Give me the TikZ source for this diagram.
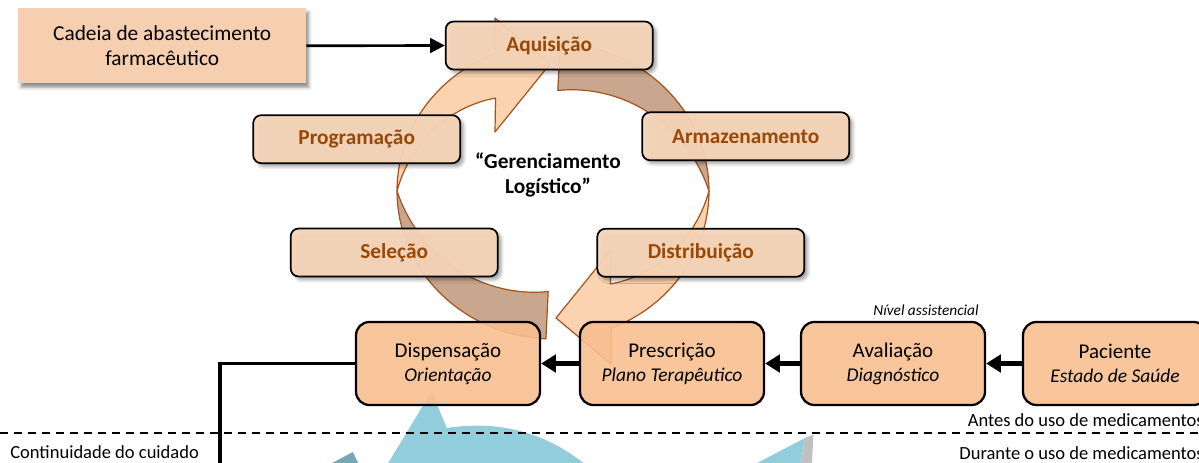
\documentclass[tikz,border=0pt]{standalone}
\usepackage{fontspec}
\setmainfont{Carlito}
\usetikzlibrary{arrows.meta,shadows.blur}
\definecolor{ringlight}{HTML}{FBD3B0}
\definecolor{ringdark}{HTML}{C8A78E}
\definecolor{ringedge}{HTML}{A5531A}
\definecolor{cyclefill}{HTML}{F8D6B9}
\definecolor{cycletext}{HTML}{984807}
\definecolor{stepfill}{HTML}{F8BF8F}
\definecolor{chainfill}{HTML}{F6CFB0}
\definecolor{bluefill}{HTML}{92CDDC}
\definecolor{tealfill}{HTML}{77A6B4}
\definecolor{grayedge}{HTML}{C0C0C0}
\tikzset{
  cyclebox/.style={draw=black, line width=1.3pt, rounded corners=6pt, fill=cyclefill,
    fill opacity=0.94, text opacity=1, minimum width=155.25pt, minimum height=36pt,
    inner sep=0pt, text=cycletext, font=\fontsize{16}{18.75}\selectfont\bfseries,
    blur shadow={shadow xshift=2.5pt, shadow yshift=-2.5pt, shadow blur radius=2.5pt, shadow opacity=40}},
  stepbox/.style={draw=black, line width=1.7pt, rounded corners=10pt, fill=stepfill,
    fill opacity=0.9, text opacity=1, minimum width=138pt, minimum height=62.25pt,
    inner sep=0pt, align=center, font=\fontsize{15.75}{18}\selectfont},
  chainbox/.style={fill=chainfill, minimum width=215.8pt, minimum height=56.25pt,
    inner sep=0pt, align=center, font=\fontsize{16}{18.75}\selectfont,
    blur shadow={shadow xshift=2pt, shadow yshift=-3pt, shadow blur radius=2.5pt, shadow opacity=45}},
  bigarrow/.style={line width=4pt, -{Triangle[length=11pt,width=13pt]}},
  thinarrow/.style={line width=2pt, -{Triangle[length=11pt,width=11pt]}},
  ringfront/.style={fill=ringlight, draw=ringedge, line width=0.9pt, line join=round},
  ringback/.style={fill=ringdark, draw=ringedge, line width=0.9pt, line join=round},
  smalllabel/.style={inner sep=0pt, font=\fontsize{13.9}{16}\selectfont},
}
\newcommand{\subline}[1]{{\fontsize{14.6}{18}\selectfont\itshape #1}}
\newcommand{\ringhalf}{%
  \path[ringback] (397,191)
    -- plot[domain=180:267.4,samples=40] ({553+156*cos(\x)},{191-148*sin(\x)})
    -- plot[domain=267.4:180,samples=40] ({553+156*kb(\x)*cos(\x)},{191-148*kb(\x)*sin(\x)})
    -- cycle;
  \path[ringfront] (397,191)
    -- plot[domain=180:111.8,samples=40] ({553+156*cos(\x)},{191-148*sin(\x)})
    -- (495,18) -- (550,64) -- (495,132)
    -- plot[domain=120.4:180,samples=40] ({553+156*kf(\x)*cos(\x)},{191-148*kf(\x)*sin(\x)})
    -- cycle;
}
\begin{document}
\begin{tikzpicture}[x=0.75pt,y=-0.75pt,
  declare function={kb(\t)=0.68+0.16*((267.4-\t)/87.4)*(1+(267.4-\t)/87.4);
                    kf(\t)=0.728+0.272*(\t-120.4)/59.6;}]
\useasboundingbox (0,0) rectangle (1199,463);
\begin{scope}
\clip (0,0) rectangle (1199,463);
% blue shapes at the bottom
\fill[bluefill] (431.7,391.3) -- (446.7,428) .. controls (500,420) and (548,432) .. (592,470) -- (384,470) -- cycle;
\fill[tealfill] (332,463) -- (353,452) -- (358,463) -- cycle;
\fill[bluefill] (757,463) -- (805,438) -- (801,463) -- cycle;
\fill[grayedge] (805,438) -- (813.3,434.7) -- (811.7,470) -- (800,470) -- cycle;
% dashed separator
\draw[line width=1.5pt, dash pattern=on 6pt off 4.5pt] (0,433) -- (1199,433);
% circular arrows
\ringhalf
\begin{scope}[rotate around={180:(553,191)}]
\ringhalf
\end{scope}
\end{scope}
% chain box
\node[chainbox] (cadeia) at (162.2,45.8) {Cadeia de abastecimento\\farmacêutico};
% cycle boxes
\node[cyclebox] (aqui) at (549.2,45.5) {Aquisição};
\node[cyclebox] (prog) at (356.7,139.2) {Programação};
\node[cyclebox] (arm) at (745.7,136.3) {Armazenamento};
\node[cyclebox] (sel) at (394.2,252.5) {Seleção};
\node[cyclebox] (dist) at (700.8,252.8) {Distribuição};
\node[font=\fontsize{16}{18.75}\selectfont\bfseries, align=center, inner sep=0pt] (ger) at (548,175) {“Gerenciamento\\Logístico”};
% care steps
\node[stepbox] (disp) at (448,363.5) {Dispensação\\\subline{Orientação}};
\node[stepbox] (presc) at (672,363.5) {Prescrição\\\subline{Plano Terapêutico}};
\node[stepbox] (aval) at (893,363.5) {Avaliação\\\subline{Diagnóstico}};
\node[stepbox] (pac) at (1115,363.5) {Paciente\\\subline{Estado de Saúde}};
% labels
\node[inner sep=0pt, font=\fontsize{11.5}{13}\selectfont\itshape] (nivel) at (926,310) {Nível assistencial};
\node[smalllabel, anchor=east] (antes) at (1204,420) {Antes do uso de medicamentos};
\node[smalllabel, anchor=east] (durante) at (1204,453) {Durante o uso de medicamentos};
\node[smalllabel, anchor=west] (cont) at (10,452) {Continuidade do cuidado};
% connectors
\draw[thinarrow] (cadeia.east) -- (aqui.west);
\draw[bigarrow] (pac.west) -- (aval.east);
\draw[bigarrow] (aval.west) -- (presc.east);
\draw[bigarrow] (presc.west) -- (disp.east);
\coordinate (contend) at (220,470);
\begin{scope}
\clip (0,0) rectangle (1199,463);
\draw[line width=2.5pt] (disp.west) -| (contend);
\end{scope}
\end{tikzpicture}
\end{document}
